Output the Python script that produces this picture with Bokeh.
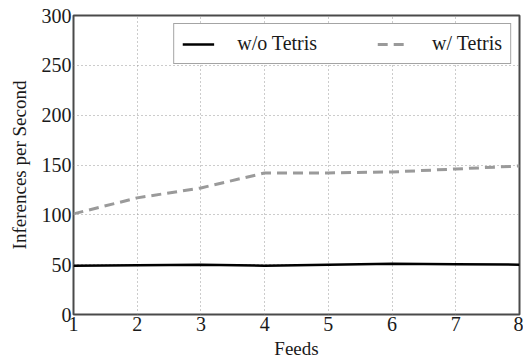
from bokeh.plotting import figure
from bokeh.models import Legend, LegendItem, FixedTicker, Range1d
from bokeh.embed import file_html
from bokeh.resources import INLINE

feeds = [1, 2, 3, 4, 5, 6, 7, 8]
without_tetris = [49, 49.5, 50, 49, 50, 51, 50.5, 50]
with_tetris = [101, 117, 127, 142, 142, 143, 146, 149]
y_ticks = [0, 50, 100, 150, 200, 250, 300]

FONT = "Liberation Serif"
TEXT = "#1a1a1a"

p = figure(output_backend="svg", toolbar_location=None,
           x_range=Range1d(1, 8), y_range=Range1d(0, 300),
           min_border_left=73, min_border_right=4, min_border_top=15, min_border_bottom=46)
p.frame_width = 446
p.frame_height = 299

r1 = p.line(feeds, without_tetris, line_color="black", line_width=2.5)
r2 = p.line(feeds, with_tetris, line_color="#9a9a9a", line_width=3, line_dash="10 6")

p.outline_line_color = "#4a4a4a"
p.outline_line_width = 2

p.xaxis.ticker = FixedTicker(ticks=feeds)
p.yaxis.ticker = FixedTicker(ticks=y_ticks)
for ax in (p.xaxis[0], p.yaxis[0]):
    ax.axis_line_color = None
    ax.major_tick_out = 0
    ax.major_tick_in = 0
    ax.minor_tick_line_color = None
    ax.major_label_text_font = FONT
    ax.major_label_text_font_size = "20px"
    ax.major_label_text_color = TEXT
    ax.axis_label_text_font = FONT
    ax.axis_label_text_font_size = "19px"
    ax.axis_label_text_font_style = "normal"
    ax.axis_label_text_color = TEXT
    ax.major_label_standoff = 2

p.xaxis.axis_label = "Feeds"
p.yaxis.axis_label = "Inferences per Second"
p.xaxis.axis_label_standoff = 4
p.yaxis.axis_label_standoff = 9

p.xgrid.ticker = FixedTicker(ticks=feeds)
p.ygrid.ticker = FixedTicker(ticks=y_ticks)
p.grid.grid_line_color = "#999999"
p.grid.grid_line_dash = "1 3"
p.grid.grid_line_width = 1

legend = Legend(items=[LegendItem(label="w/o Tetris", renderers=[r1]),
                       LegendItem(label="w/ Tetris", renderers=[r2])],
                orientation="horizontal", location="top_right",
                label_text_font=FONT, label_text_font_size="20px",
                label_text_color=TEXT,
                glyph_width=32, glyph_height=20, label_height=20,
                spacing=60, label_standoff=23,
                padding=8, margin=8,
                border_line_color="#4a4a4a", border_line_width=1.5,
                background_fill_alpha=1)
p.add_layout(legend)

open("out.html", "w").write(file_html(p, INLINE))
